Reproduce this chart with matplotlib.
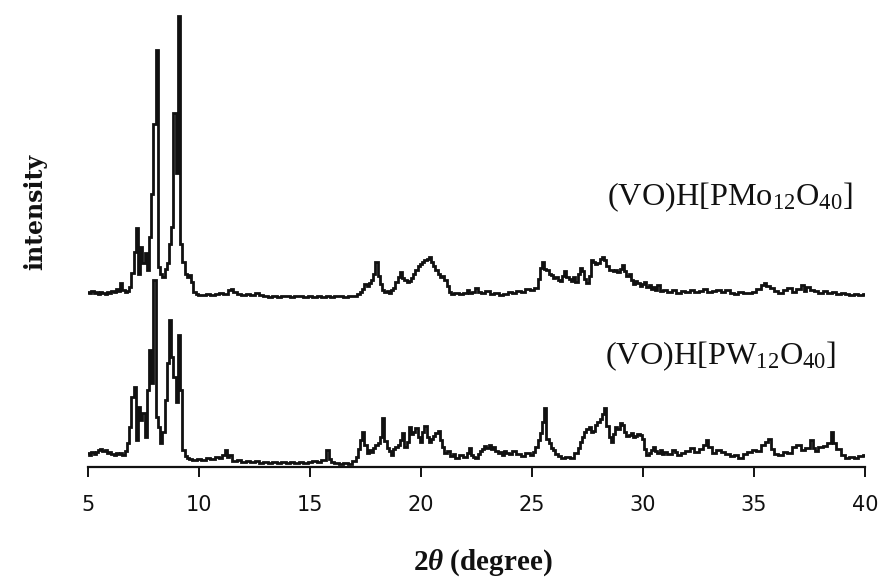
import matplotlib
matplotlib.use("Agg")
import matplotlib.pyplot as plt

plt.rcParams['mathtext.fontset'] = 'custom'
plt.rcParams['mathtext.rm'] = 'Liberation Serif'
plt.rcParams['mathtext.it'] = 'Liberation Serif:italic:bold'
plt.rcParams['mathtext.bf'] = 'Liberation Serif:bold'

# ---------------- data (2theta in degree, intensity in a.u.) ----------------
# (VO)H[PMo12O40]  (upper pattern, intensity above its own baseline)
pmo_2theta = [
    5.0, 5.1, 5.2, 5.3, 5.4, 5.5, 5.6, 5.7, 5.8, 5.9, 6.0, 6.1, 6.2, 6.3, 6.4, 6.5, 6.6, 6.7, 6.8, 6.9,
    7.0, 7.1, 7.2, 7.3, 7.4, 7.5, 7.6, 7.7, 7.8, 7.9, 8.0, 8.1, 8.2, 8.3, 8.4, 8.5, 8.6, 8.7, 8.8, 8.9,
    9.0, 9.1, 9.2, 9.3, 9.4, 9.5, 9.6, 9.7, 9.8, 9.9, 10.0, 10.2, 10.4, 10.6, 10.8, 11.0, 11.2, 11.4, 11.5, 11.6,
    11.8, 12.0, 12.2, 12.4, 12.6, 12.8, 13.0, 13.2, 13.4, 13.6, 13.8, 14.0, 14.2, 14.4, 14.6, 14.8, 15.0, 15.2, 15.4, 15.6,
    15.8, 16.0, 16.2, 16.4, 16.6, 16.8, 17.0, 17.2, 17.3, 17.4, 17.5, 17.6, 17.7, 17.8, 17.9, 18.0, 18.1, 18.2, 18.3, 18.4,
    18.5, 18.6, 18.7, 18.8, 18.9, 19.0, 19.1, 19.2, 19.3, 19.4, 19.5, 19.6, 19.7, 19.8, 19.9, 20.0, 20.1, 20.2, 20.3, 20.4,
    20.5, 20.6, 20.7, 20.8, 20.9, 21.0, 21.1, 21.2, 21.3, 21.4, 21.6, 21.8, 22.0, 22.1, 22.2, 22.4, 22.5, 22.6, 22.8, 23.0,
    23.2, 23.4, 23.6, 23.8, 24.0, 24.2, 24.4, 24.6, 24.8, 25.0, 25.2, 25.3, 25.4, 25.5, 25.6, 25.7, 25.8, 25.9, 26.0, 26.1,
    26.2, 26.3, 26.4, 26.5, 26.6, 26.7, 26.8, 26.9, 27.0, 27.1, 27.2, 27.3, 27.4, 27.5, 27.6, 27.7, 27.8, 27.9, 28.0, 28.1,
    28.2, 28.3, 28.4, 28.5, 28.6, 28.7, 28.8, 28.9, 29.0, 29.1, 29.2, 29.3, 29.4, 29.5, 29.6, 29.7, 29.8, 29.9, 30.0, 30.1,
    30.2, 30.3, 30.4, 30.5, 30.6, 30.7, 30.8, 31.0, 31.2, 31.4, 31.6, 31.8, 32.0, 32.2, 32.4, 32.6, 32.8, 33.0, 33.2, 33.4,
    33.6, 33.8, 34.0, 34.2, 34.4, 34.6, 34.8, 35.0, 35.2, 35.4, 35.5, 35.6, 35.8, 36.0, 36.2, 36.4, 36.6, 36.8, 37.0, 37.2,
    37.3, 37.4, 37.6, 37.8, 38.0, 38.2, 38.4, 38.6, 38.8, 39.0, 39.2, 39.4, 39.6, 39.8, 40.0,
]
pmo_intensity = [
    12, 11, 13, 11, 12, 10, 12, 11, 10, 12, 11, 13, 12, 15, 13, 21, 14, 12, 13, 17,
    31, 52, 76, 30, 57, 41, 51, 34, 67, 110, 180, 254, 37, 30, 27, 35, 41, 60, 77, 191,
    131, 288, 60, 42, 30, 27, 29, 22, 12, 10, 9, 9, 10, 9, 10, 11, 10, 14, 15, 12,
    10, 9, 10, 9, 11, 9, 8, 7, 8, 7, 8, 8, 7, 8, 8, 7, 8, 7, 8, 7,
    8, 7, 8, 8, 7, 8, 8, 10, 12, 15, 20, 18, 21, 24, 30, 42, 28, 20, 14, 12,
    13, 11, 14, 16, 22, 27, 32, 26, 24, 22, 23, 26, 30, 34, 38, 40, 42, 44, 45, 47,
    42, 38, 34, 30, 27, 28, 24, 18, 12, 10, 11, 10, 11, 14, 11, 12, 16, 12, 11, 13,
    10, 11, 9, 10, 12, 11, 13, 12, 15, 14, 16, 25, 36, 42, 35, 34, 30, 29, 26, 27,
    24, 23, 28, 33, 27, 25, 23, 27, 22, 30, 36, 33, 25, 21, 28, 44, 42, 40, 41, 45,
    47, 44, 38, 34, 34, 33, 34, 32, 35, 39, 33, 28, 30, 24, 20, 23, 21, 18, 20, 22,
    17, 19, 15, 17, 14, 19, 13, 14, 12, 14, 11, 13, 12, 14, 12, 13, 15, 12, 13, 14,
    12, 14, 11, 10, 12, 11, 11, 12, 15, 19, 21, 18, 16, 13, 11, 14, 16, 12, 15, 19,
    13, 17, 14, 13, 11, 13, 11, 12, 10, 11, 10, 9, 10, 9, 10,
]

# (VO)H[PW12O40]  (lower pattern)
pw_2theta = [
    5.0, 5.1, 5.2, 5.3, 5.4, 5.5, 5.6, 5.7, 5.8, 5.9, 6.0, 6.1, 6.2, 6.3, 6.4, 6.5, 6.6, 6.7, 6.8, 6.9,
    7.0, 7.1, 7.2, 7.3, 7.4, 7.5, 7.6, 7.7, 7.8, 7.9, 8.0, 8.1, 8.2, 8.3, 8.4, 8.5, 8.6, 8.7, 8.8, 8.9,
    9.0, 9.1, 9.2, 9.3, 9.4, 9.5, 9.6, 9.8, 10.0, 10.2, 10.4, 10.6, 10.8, 11.0, 11.1, 11.2, 11.3, 11.4, 11.6, 11.8,
    12.0, 12.2, 12.4, 12.6, 12.8, 13.0, 13.2, 13.4, 13.6, 13.8, 14.0, 14.2, 14.4, 14.6, 14.8, 15.0, 15.2, 15.4, 15.6, 15.8,
    15.9, 16.0, 16.2, 16.4, 16.6, 16.8, 17.0, 17.1, 17.2, 17.3, 17.4, 17.5, 17.6, 17.7, 17.8, 17.9, 18.0, 18.1, 18.2, 18.3,
    18.4, 18.5, 18.6, 18.7, 18.8, 18.9, 19.0, 19.1, 19.2, 19.3, 19.4, 19.5, 19.6, 19.7, 19.8, 19.9, 20.0, 20.1, 20.2, 20.3,
    20.4, 20.5, 20.6, 20.7, 20.8, 20.9, 21.0, 21.1, 21.2, 21.4, 21.5, 21.6, 21.8, 22.0, 22.1, 22.2, 22.3, 22.4, 22.5, 22.6,
    22.7, 22.8, 22.9, 23.0, 23.1, 23.2, 23.3, 23.4, 23.5, 23.6, 23.7, 23.8, 23.9, 24.0, 24.2, 24.4, 24.6, 24.8, 25.0, 25.1,
    25.2, 25.3, 25.4, 25.5, 25.6, 25.7, 25.8, 25.9, 26.0, 26.1, 26.2, 26.4, 26.6, 26.8, 27.0, 27.1, 27.2, 27.3, 27.4, 27.5,
    27.6, 27.7, 27.8, 27.9, 28.0, 28.1, 28.2, 28.3, 28.4, 28.5, 28.6, 28.7, 28.8, 28.9, 29.0, 29.1, 29.2, 29.3, 29.4, 29.5,
    29.6, 29.7, 29.8, 29.9, 30.0, 30.1, 30.2, 30.3, 30.4, 30.5, 30.6, 30.7, 30.8, 30.9, 31.0, 31.2, 31.4, 31.5, 31.6, 31.8,
    32.0, 32.2, 32.4, 32.6, 32.8, 32.9, 33.0, 33.2, 33.4, 33.6, 33.8, 34.0, 34.2, 34.4, 34.6, 34.8, 35.0, 35.2, 35.4, 35.6,
    35.7, 35.8, 36.0, 36.2, 36.4, 36.6, 36.8, 37.0, 37.2, 37.4, 37.6, 37.7, 37.8, 38.0, 38.2, 38.4, 38.5, 38.6, 38.8, 39.0,
    39.2, 39.4, 39.6, 39.8, 40.0,
]
pw_intensity = [
    14, 12, 15, 13, 15, 17, 18, 16, 17, 14, 15, 13, 12, 14, 13, 14, 12, 16, 24, 40,
    70, 80, 27, 60, 47, 54, 30, 77, 117, 84, 187, 50, 40, 24, 35, 67, 104, 147, 110, 90,
    65, 132, 77, 17, 11, 9, 8, 7, 8, 7, 9, 8, 10, 9, 12, 17, 10, 12, 6, 7,
    5, 6, 5, 6, 4, 5, 4, 5, 4, 5, 4, 5, 4, 5, 4, 5, 6, 5, 7, 17,
    8, 5, 4, 3, 4, 3, 6, 10, 18, 27, 35, 22, 14, 17, 15, 19, 22, 24, 30, 49,
    26, 19, 16, 12, 18, 20, 22, 27, 34, 20, 25, 40, 33, 35, 39, 30, 25, 35, 41, 30,
    25, 28, 31, 34, 36, 27, 20, 14, 16, 11, 13, 9, 12, 10, 14, 19, 12, 10, 9, 13,
    16, 18, 21, 19, 22, 18, 20, 16, 14, 15, 12, 16, 14, 13, 16, 13, 11, 14, 12, 15,
    20, 27, 34, 45, 59, 28, 24, 19, 17, 13, 11, 9, 10, 9, 14, 19, 25, 30, 35, 38,
    40, 35, 36, 42, 45, 48, 53, 59, 41, 30, 25, 33, 40, 38, 44, 42, 35, 31, 32, 34,
    30, 31, 33, 32, 28, 18, 12, 14, 17, 20, 16, 14, 17, 13, 15, 13, 17, 15, 12, 14,
    16, 19, 15, 18, 22, 27, 20, 14, 17, 15, 13, 11, 12, 9, 13, 15, 17, 16, 22, 25,
    28, 18, 13, 12, 15, 14, 20, 22, 17, 19, 27, 19, 16, 20, 21, 24, 35, 24, 18, 12,
    9, 10, 9, 11, 12,
]

pmo_offset = 163
pw_offset = 0

pmo_label = r'(VO)H[PMo$_{12}$O$_{40}$]'
pw_label = r'(VO)H[PW$_{12}$O$_{40}$]'
x_ticks = [5, 10, 15, 20, 25, 30, 35, 40]

# ---------------- figure ----------------
fig = plt.figure(figsize=(8.8, 5.81), dpi=100)
fig.patch.set_facecolor('white')
ax = fig.add_axes([88 / 880, 114 / 581, (865 - 88) / 880, 467 / 581])

ax.plot(pmo_2theta, [v + pmo_offset for v in pmo_intensity], color='#111111',
        lw=2.0, drawstyle='steps-mid', solid_joinstyle='miter')
ax.plot(pw_2theta, [v + pw_offset for v in pw_intensity], color='#111111',
        lw=2.0, drawstyle='steps-mid', solid_joinstyle='miter')

ax.set_xlim(5, 40)
ax.set_ylim(0, 467)
for s in ['left', 'right', 'top']:
    ax.spines[s].set_visible(False)
ax.spines['bottom'].set_linewidth(1.6)
ax.spines['bottom'].set_color('#111111')
ax.set_yticks([])
ax.set_xticks(x_ticks)
ax.set_xticklabels([str(t) for t in x_ticks], fontfamily='DejaVu Sans', fontsize=15)
ax.tick_params(axis='x', direction='out', length=7, width=1.4, pad=13, colors='#111111')

fig.text(35 / 880, 1 - 212 / 581, 'intensity', rotation=90, ha='center', va='center',
         fontfamily='DejaVu Serif', fontweight='bold', fontsize=17, color='#111111')
fig.text(483 / 880, 1 - 563 / 581, r'$\mathbf{2}\theta$ (degree)', ha='center', va='center',
         fontfamily='Liberation Serif', fontweight='bold', fontsize=21, color='#111111')

fig.text(607 / 880, 1 - 197 / 581, pmo_label, ha='left', va='center',
         fontfamily='Liberation Serif', fontsize=23.2, color='#111111')
fig.text(605 / 880, 1 - 356 / 581, pw_label, ha='left', va='center',
         fontfamily='Liberation Serif', fontsize=23.2, color='#111111')

fig.savefig('out.png', dpi=100, facecolor='white')
